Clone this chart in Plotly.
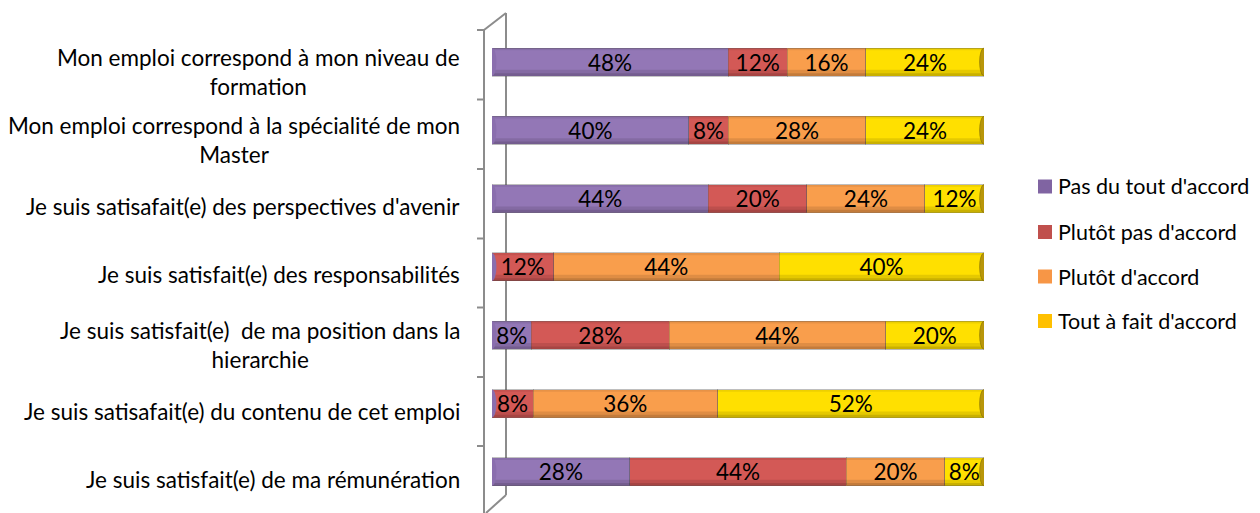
import plotly.graph_objects as go

categories = [
    "Mon emploi correspond à mon niveau de<br>formation",
    "Mon emploi correspond à la spécialité de mon<br>Master",
    "Je suis satisafait(e) des perspectives d'avenir",
    "Je suis satisfait(e) des responsabilités",
    "Je suis satisfait(e)  de ma position dans la<br>hierarchie",
    "Je suis satisafait(e) du contenu de cet emploi",
    "Je suis satisfait(e) de ma rémunération",
]
pas_du_tout = [48, 40, 44, 0, 8, 0, 28]
plutot_pas = [12, 8, 20, 12, 28, 8, 44]
plutot = [16, 28, 24, 44, 44, 36, 20]
tout_a_fait = [24, 24, 12, 40, 20, 52, 8]

series_names = ["Pas du tout d'accord", "Plutôt pas d'accord", "Plutôt d'accord", "Tout à fait d'accord"]
series_values = [pas_du_tout, plutot_pas, plutot, tout_a_fait]
bar_colors = ["#9377B6", "#D35956", "#F99E4C", "#FFE000"]
legend_colors = ["#8064A2", "#C0504D", "#F79646", "#FFC000"]

W, H = 1260, 513
OFF = 8  # page body margin in the browser
L, R, T, Bt = 492, 984, 22, 506  # plot area in screenshot pixels
FONT = "Lato"
FS = 22.5
LEG_FS = 21.5
BARGAP = 0.59


def px(p):
    return (p - L) / (R - L)


def py(p):
    return 1 - (p - T) / (Bt - T)


fig = go.Figure()
for name, vals, col in zip(series_names, series_values, bar_colors):
    fig.add_trace(go.Bar(
        y=categories, x=vals, name=name, orientation="h",
        marker=dict(color=col, line=dict(color="rgba(90,90,90,0.35)", width=1)),
        text=[f"{v}%" if v > 0 else "" for v in vals],
        textposition="inside", insidetextanchor="middle",
        textfont=dict(family=FONT, size=FS, color="black"),
        constraintext="none", cliponaxis=False,
        showlegend=False,
        hoverinfo="skip",
    ))

shapes = []
gray = dict(color="#8C8C8C", width=2)
# 3D-style category axis: front line with ticks, back wall line, diagonals
shapes.append(dict(type="line", xref="paper", yref="paper", x0=px(484), x1=px(484), y0=py(30), y1=py(513), line=gray))
for yy in [30, 99.5, 169, 238.5, 307.5, 377, 446]:
    shapes.append(dict(type="line", xref="paper", yref="paper", x0=px(477), x1=px(484), y0=py(yy), y1=py(yy), line=gray))
shapes.append(dict(type="line", xref="paper", yref="paper", x0=px(506), x1=px(506), y0=py(13), y1=py(495), line=gray, layer="below"))
shapes.append(dict(type="line", xref="paper", yref="paper", x0=px(484), x1=px(506), y0=py(30), y1=py(13), line=gray))
shapes.append(dict(type="line", xref="paper", yref="paper", x0=px(506), x1=px(486), y0=py(495), y1=py(513), line=gray))

# cylinder shading and end caps for each bar (derived from category index)
half = (1 - BARGAP) / 2
cap = 0.9
for i in range(len(categories)):
    y0, y1 = i - half, i + half
    h = y1 - y0
    shapes.append(dict(type="rect", xref="x", yref="y", x0=0, x1=100, y0=y1 - 0.22 * h, y1=y1,
                       fillcolor="rgba(0,0,0,0.10)", line=dict(width=0)))
    shapes.append(dict(type="rect", xref="x", yref="y", x0=0, x1=100, y0=y1 - 0.10 * h, y1=y1,
                       fillcolor="rgba(0,0,0,0.12)", line=dict(width=0)))
    shapes.append(dict(type="rect", xref="x", yref="y", x0=0, x1=100, y0=y0, y1=y0 + 0.08 * h,
                       fillcolor="rgba(0,0,0,0.07)", line=dict(width=0)))
    shapes.append(dict(type="circle", xref="x", yref="y", x0=-cap, x1=cap, y0=y0, y1=y1,
                       fillcolor="#8A6EAE", line=dict(width=0)))
    shapes.append(dict(type="circle", xref="x", yref="y", x0=100 - cap, x1=100 + cap, y0=y0, y1=y1,
                       fillcolor="#B8960A", line=dict(color="rgba(120,100,0,0.5)", width=1)))

annotations = []
for c in categories:
    two = "<br>" in c
    annotations.append(dict(
        x=px(462), y=c, xref="paper", yref="y", text=c, showarrow=False,
        xanchor="right", yanchor="middle", align="center",
        yshift=-10 if two else -8,
        font=dict(family=FONT, size=FS, color="black"),
    ))

# legend (drawn manually so it does not shrink the plot area)
legend_y = [186.5, 232, 276.5, 321]
for name, col, ly in zip(series_names, legend_colors, legend_y):
    shapes.append(dict(type="rect", xref="paper", yref="paper",
                       x0=px(1038), x1=px(1052), y0=py(ly - 7), y1=py(ly + 7),
                       fillcolor=col, line=dict(width=0)))
    annotations.append(dict(
        x=px(1056), y=py(ly), xref="paper", yref="paper", text=name, showarrow=False,
        xanchor="left", yanchor="middle", align="left",
        font=dict(family=FONT, size=LEG_FS, color="black"),
    ))

fig.update_layout(
    width=W, height=H,
    margin=dict(l=L - OFF, r=W - (R - OFF), t=T - OFF, b=H - (Bt - OFF)),
    barmode="stack", barnorm="percent", bargap=BARGAP,
    plot_bgcolor="white", paper_bgcolor="white",
    xaxis=dict(range=[0, 100], visible=False, fixedrange=True),
    yaxis=dict(autorange="reversed", showticklabels=False, showgrid=False,
               showline=False, zeroline=False, ticks=""),
    uniformtext=dict(minsize=FS, mode="show"),
    shapes=shapes, annotations=annotations,
    showlegend=False,
)

fig.write_html("out.html")
